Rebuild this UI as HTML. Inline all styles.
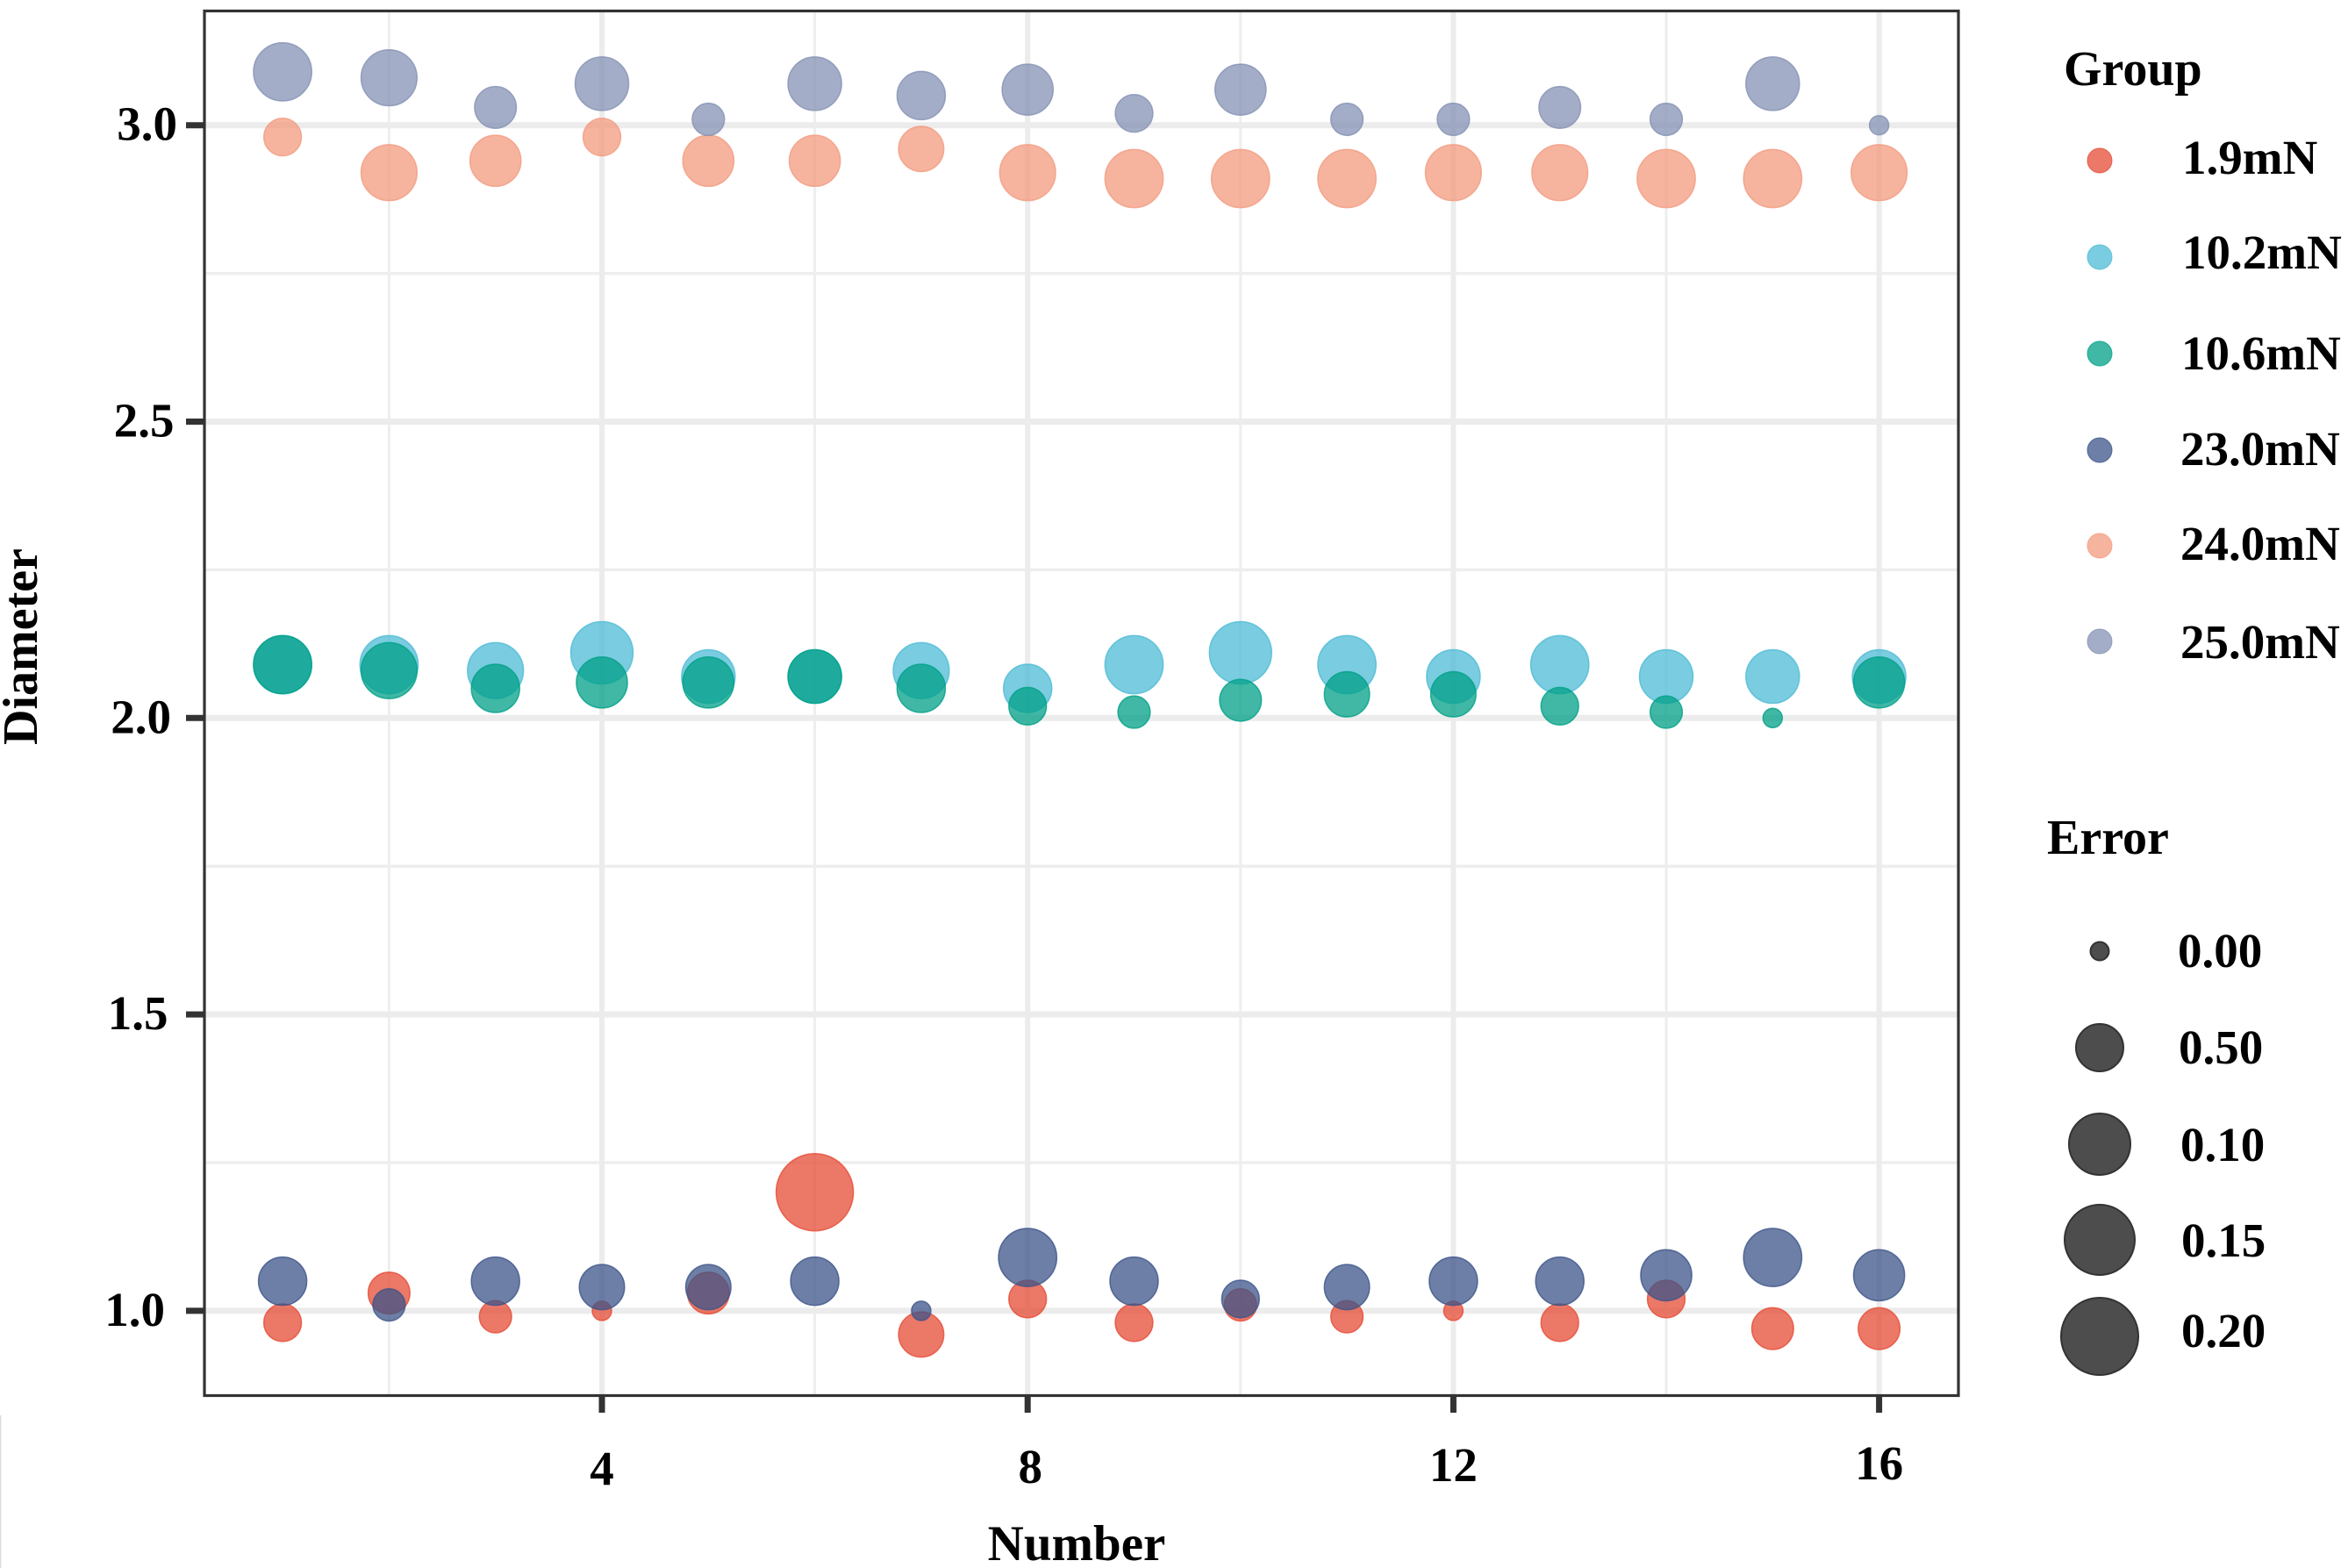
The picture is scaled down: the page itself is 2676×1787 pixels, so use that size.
<!DOCTYPE html>
<html>
<head>
<meta charset="utf-8">
<title>Diameter by Number</title>
<style>
html,body{margin:0;padding:0;background:#fff;}
svg{display:block;}
text{font-family:"Liberation Serif",serif;font-weight:bold;fill:#000;font-size:55px;}
</style>
</head>
<body>
<svg id="chart" width="2676" height="1787" viewBox="0 0 2676 1787" xmlns="http://www.w3.org/2000/svg">
  <rect x="0" y="0" width="2676" height="1787" fill="#ffffff"/>
  <line x1="0.7" y1="1613" x2="0.7" y2="1787" stroke="#dddddd" stroke-width="1.5"/>
  <g id="grid"></g>
  <g id="marks"></g>
  <rect x="233" y="12.5" width="1999" height="1578" fill="none" stroke="#333333" stroke-width="3.2"/>
  <g id="axes"></g>

  <text x="1227" y="1778" text-anchor="middle" style="font-size:57px">Number</text>
  <text transform="translate(42 737) rotate(-90)" text-anchor="middle" style="font-size:56px">Diameter</text>

  <g>
    <text x="2352" y="97" style="font-size:56px">Group</text>
    <circle cx="2393" cy="183" r="14" fill="#E64B35" fill-opacity="0.75" stroke="#E64B35" stroke-opacity="0.8"/>
    <text x="2487" y="198">1.9mN</text>
    <circle cx="2393" cy="293" r="14" fill="#4DBBD5" fill-opacity="0.75" stroke="#4DBBD5" stroke-opacity="0.8"/>
    <text x="2487" y="306">10.2mN</text>
    <circle cx="2393" cy="403" r="14" fill="#00A087" fill-opacity="0.75" stroke="#00A087" stroke-opacity="0.8"/>
    <text x="2486" y="421">10.6mN</text>
    <circle cx="2393" cy="513" r="14" fill="#3C5488" fill-opacity="0.75" stroke="#3C5488" stroke-opacity="0.8"/>
    <text x="2485" y="530">23.0mN</text>
    <circle cx="2393" cy="622" r="14" fill="#F39B7F" fill-opacity="0.75" stroke="#F39B7F" stroke-opacity="0.8"/>
    <text x="2485" y="638">24.0mN</text>
    <circle cx="2393" cy="731" r="14" fill="#8491B4" fill-opacity="0.75" stroke="#8491B4" stroke-opacity="0.8"/>
    <text x="2485" y="750">25.0mN</text>
  </g>

  <g>
    <text x="2333" y="973" style="font-size:56px">Error</text>
    <circle cx="2393" cy="1084" r="10.5" fill="#4d4d4d" stroke="#333333" stroke-width="2"/>
    <text x="2482" y="1102">0.00</text>
    <circle cx="2393" cy="1194" r="27" fill="#4d4d4d" stroke="#333333" stroke-width="2"/>
    <text x="2483" y="1212">0.50</text>
    <circle cx="2393" cy="1304" r="35" fill="#4d4d4d" stroke="#333333" stroke-width="2"/>
    <text x="2485" y="1323">0.10</text>
    <circle cx="2393" cy="1413" r="40" fill="#4d4d4d" stroke="#333333" stroke-width="2"/>
    <text x="2486" y="1432">0.15</text>
    <circle cx="2393" cy="1523" r="44" fill="#4d4d4d" stroke="#333333" stroke-width="2"/>
    <text x="2486" y="1535">0.20</text>
  </g>
</svg>
<script>
var numbers = [1,2,3,4,5,6,7,8,9,10,11,12,13,14,15,16];
var xTicks = [4,8,12,16];
var xMinorTicks = [2,6,10,14];
var yTicks = [1.0,1.5,2.0,2.5,3.0];
var yMinorTicks = [1.25,1.75,2.25,2.75];

var seriesNames = ['1.9mN','10.2mN','10.6mN','23.0mN','24.0mN','25.0mN'];
var seriesColors = ['#E64B35','#4DBBD5','#00A087','#3C5488','#F39B7F','#8491B4'];

var diameter19 = [0.98,1.03,0.99,1.00,1.03,1.20,0.96,1.02,0.98,1.01,0.99,1.00,0.98,1.02,0.97,0.97];
var diameter102 = [2.09,2.09,2.08,2.11,2.07,2.07,2.08,2.05,2.09,2.11,2.09,2.07,2.09,2.07,2.07,2.07];
var diameter106 = [2.09,2.08,2.05,2.06,2.06,2.07,2.05,2.02,2.01,2.03,2.04,2.04,2.02,2.01,2.00,2.06];
var diameter230 = [1.05,1.01,1.05,1.04,1.04,1.05,1.00,1.09,1.05,1.02,1.04,1.05,1.05,1.06,1.09,1.06];
var diameter240 = [2.98,2.92,2.94,2.98,2.94,2.94,2.96,2.92,2.91,2.91,2.91,2.92,2.92,2.91,2.91,2.92];
var diameter250 = [3.09,3.08,3.03,3.07,3.01,3.07,3.05,3.06,3.02,3.06,3.01,3.01,3.03,3.01,3.07,3.00];

var error19 = [0.02,0.03,0.01,0.00,0.03,0.20,0.04,0.02,0.02,0.01,0.01,0.00,0.02,0.02,0.03,0.03];
var error102 = [0.09,0.09,0.08,0.11,0.07,0.07,0.08,0.05,0.09,0.11,0.09,0.07,0.09,0.07,0.07,0.07];
var error106 = [0.09,0.08,0.05,0.06,0.06,0.07,0.05,0.02,0.01,0.03,0.04,0.04,0.02,0.01,0.00,0.06];
var error230 = [0.05,0.01,0.05,0.04,0.04,0.05,0.00,0.09,0.05,0.02,0.04,0.05,0.05,0.06,0.09,0.06];
var error240 = [0.02,0.08,0.06,0.02,0.06,0.06,0.04,0.08,0.09,0.09,0.09,0.08,0.08,0.09,0.09,0.08];
var error250 = [0.09,0.08,0.03,0.07,0.01,0.07,0.05,0.06,0.02,0.06,0.01,0.01,0.03,0.01,0.07,0.00];

var seriesValues = [diameter19,diameter102,diameter106,diameter230,diameter240,diameter250];
var seriesErrors = [error19,error102,error106,error230,error240,error250];

var NS = 'http://www.w3.org/2000/svg';
function xScale(n){ return 686 + (n - 4) * 121.3; }
function yScale(v){ return 142.7 + (3 - v) * 675.6; }
function radius(e){ return (22 + 66 * Math.sqrt(Math.max(e,0) / 0.2)) / 2; }
function make(tag, attrs, parent){
  var el = document.createElementNS(NS, tag);
  for (var k in attrs) el.setAttribute(k, attrs[k]);
  parent.appendChild(el);
  return el;
}
var grid = document.getElementById('grid');
var marks = document.getElementById('marks');
var axes = document.getElementById('axes');

yMinorTicks.forEach(function(v){
  var el = make('line',{x1:233,x2:2232,y1:yScale(v),y2:yScale(v),stroke:'#eeeeee','stroke-width':3.5},grid);
  
  
});
xMinorTicks.forEach(function(n){
  var el = make('line',{x1:xScale(n),x2:xScale(n),y1:13,y2:1590,stroke:'#eeeeee','stroke-width':3},grid);
  
  
});
yTicks.forEach(function(v){
  var el = make('line',{x1:233,x2:2232,y1:yScale(v),y2:yScale(v),stroke:'#ececec','stroke-width':7},grid);
  
  
});
xTicks.forEach(function(n){
  var el = make('line',{x1:xScale(n),x2:xScale(n),y1:13,y2:1590,stroke:'#ececec','stroke-width':6},grid);
  
  
});

seriesValues.forEach(function(values, s){
  var group = make('g',{},marks);
  
  
  numbers.forEach(function(n, i){
    var c = make('circle',{cx:xScale(n),cy:yScale(values[i]),r:radius(seriesErrors[s][i]),fill:seriesColors[s],'fill-opacity':0.75,stroke:seriesColors[s],'stroke-opacity':0.8,'stroke-width':1.5},group);
    
    
  });
});

yTicks.forEach(function(v){
  var t = make('line',{x1:212,x2:232,y1:yScale(v),y2:yScale(v),stroke:'#333333','stroke-width':7},axes);
  
  
  var lab = make('text',{x:188 + (v - 1) * 7,y:yScale(v) + 17,'text-anchor':'end'},axes);
  lab.textContent = v.toFixed(1);
  
  
});
xTicks.forEach(function(n){
  var t = make('line',{x1:xScale(n),x2:xScale(n),y1:1591,y2:1610,stroke:'#333333','stroke-width':7},axes);
  
  
  var lab = make('text',{x:xScale(n) + (n === 8 ? 3 : 0),y:1692 - (n - 4) * 0.5,'text-anchor':'middle'},axes);
  lab.textContent = String(n);
  
  
});
</script>
</body>
</html>
